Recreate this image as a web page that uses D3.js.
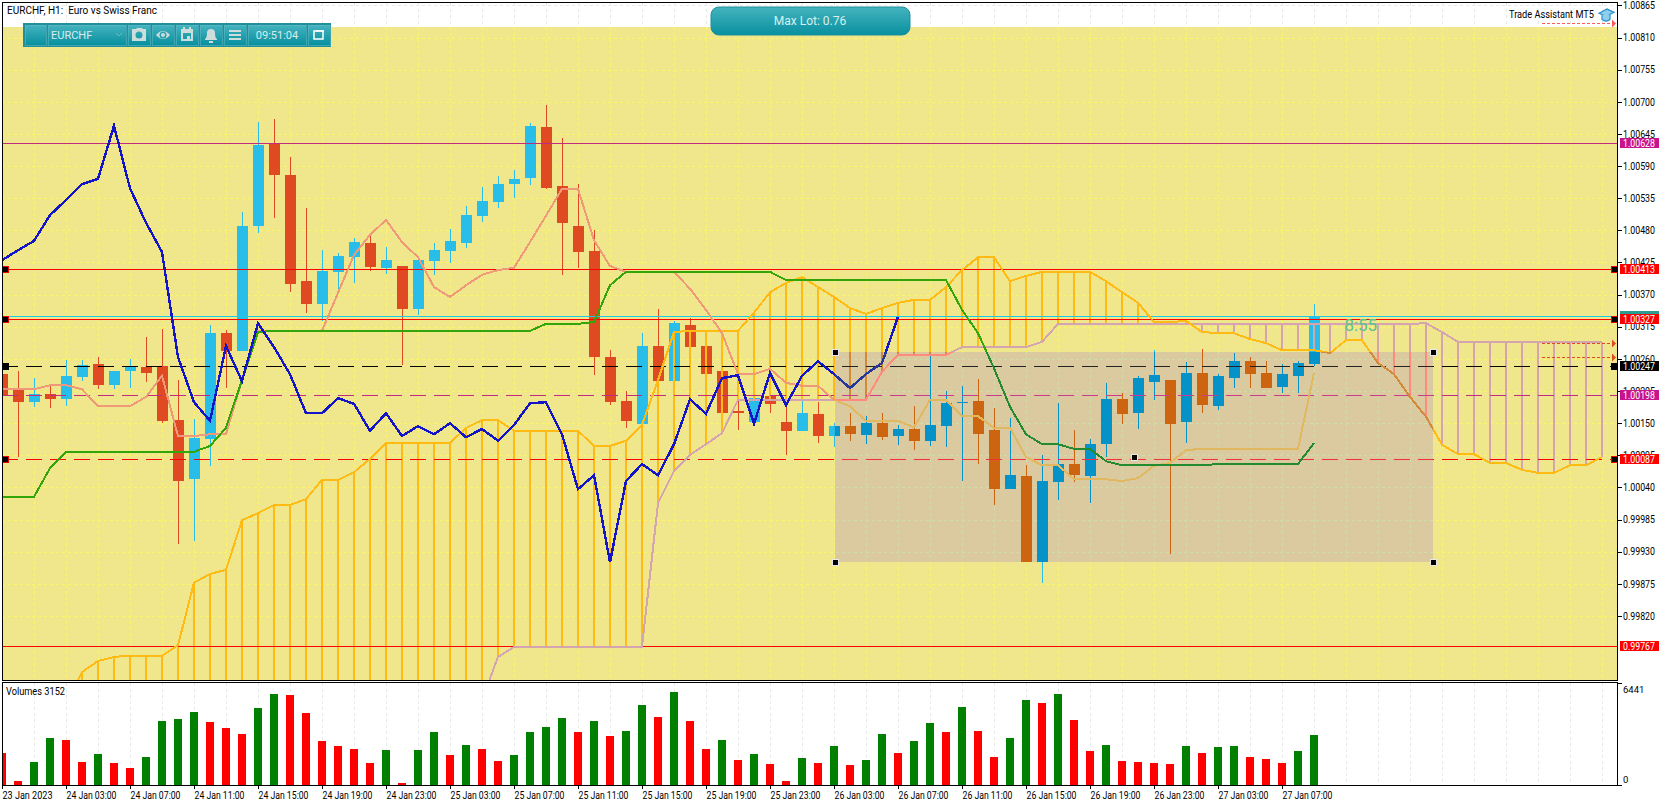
<!DOCTYPE html>
<html>
<head>
<meta charset="utf-8">
<script src="https://cdn.jsdelivr.net/npm/d3@7"></script>
<style>
  html, body { margin: 0; padding: 0; background: #fff; }
  svg { display: block; }
  text { font-family: Roboto, "Liberation Sans", sans-serif; }
</style>
</head>
<body>
<div id="chart"></div>
<script>
// all prices in points (1.00000 = 100000)
const highs = [100241,100239,100227,100217,100258,100258,100263,100239,100260,100297,100311,100224,100157,100318,100309,100511,100665,100671,100606,100518,100446,100441,100467,100475,100451,100419,100436,100458,100482,100522,100554,100573,100583,100664,100695,100638,100559,100481,100275,100205,100304,100345,100325,100330,100282,100239,100215,100197,100203,100181,100188,100186,100150,100167,100162,100167,100147,100179,100265,100205,100214,100226,100176,100159,100078,100096,100184,100138,100123,100219,100202,100231,100275,100224,100255,100277,100234,100270,100263,100256,100251,100256,100354];
const lows = [100190,100092,100178,100176,100179,100222,100209,100209,100210,100220,100150,99943,99948,100077,100210,100274,100475,100501,100374,100339,100325,100378,100390,100410,100405,100250,100335,100404,100424,100450,100494,100518,100535,100558,100551,100404,100416,100232,100181,100142,100145,100215,100197,100272,100210,100159,100138,100147,100167,100096,100137,100116,100109,100120,100114,100121,100113,100104,100111,100109,100051,100080,100010,100037,99912,99877,100018,100049,100013,100092,100149,100140,100190,99926,100116,100167,100173,100210,100210,100210,100202,100202,100248];
const opens = [100234,100207,100186,100200,100191,100229,100251,100215,100239,100246,100248,100155,100054,100123,100304,100274,100487,100630,100575,100393,100354,100409,100434,100458,100416,100419,100345,100428,100445,100458,100505,100528,100559,100570,100657,100556,100487,100445,100263,100188,100149,100282,100222,100318,100282,100239,100171,100152,100197,100152,100137,100166,100128,100145,100130,100150,100128,100140,100120,100145,100184,100188,100138,100037,100060,99912,100049,100080,100060,100114,100191,100167,100220,100224,100152,100236,100179,100227,100256,100236,100212,100231,100251];
const closes = [100198,100186,100200,100191,100231,100250,100215,100239,100246,100236,100154,100051,100125,100304,100274,100487,100626,100575,100388,100354,100410,100436,100460,100417,100429,100345,100429,100446,100462,100506,100530,100559,100568,100659,100552,100493,100443,100263,100186,100154,100282,100222,100321,100280,100234,100167,100167,100193,100183,100137,100167,100128,100145,100131,100150,100126,100140,100120,100147,100184,100186,100131,100037,100061,99912,100051,100080,100061,100114,100191,100166,100227,100232,100149,100236,100181,100231,100256,100234,100210,100234,100253,100332];

const tenkan = [100208,100208,100208,100215,100215,100208,100179,100179,100179,100195,100231,100128,100128,100131,100131,100224,100308,100308,100308,100308,100308,100373,100438,100472,100498,100460,100434,100383,100366,100386,100404,100412,100416,100460,100505,100551,100551,100463,100419,100409,100409,100409,100409,100380,100344,100304,100234,100234,100243,100219,100214,100214,100190,100179,100154,100154,100154,100143,100190,100190,100162,100162,100142,100142,100092,100078,100078,100054,100054,100054,100051,100056,100077,100082,100104,100106,100106,100106,100106,100106,100106,100106,100236];
const kijun = [100024,100024,100024,100073,100101,100101,100101,100101,100101,100101,100101,100101,100101,100111,100142,100224,100306,100308,100308,100308,100308,100308,100308,100308,100308,100308,100308,100308,100308,100308,100308,100308,100308,100308,100320,100320,100320,100323,100386,100409,100409,100409,100409,100409,100409,100409,100409,100409,100409,100395,100395,100395,100395,100395,100395,100395,100395,100395,100395,100395,100344,100304,100244,100178,100131,100114,100114,100106,100106,100085,100078,100078,100078,100078,100078,100078,100080,100080,100080,100080,100080,100080,100116];
const chikou = [100429,100446,100462,100506,100532,100559,100568,100659,100552,100493,100443,100263,100186,100154,100282,100222,100321,100280,100234,100167,100167,100193,100183,100137,100167,100128,100145,100131,100150,100126,100140,100120,100147,100184,100186,100131,100037,100061,99912,100051,100080,100061,100114,100191,100166,100227,100232,100149,100236,100181,100231,100256,100234,100210,100234,100253,100332];
// the cloud starts at bar 4 and runs 18 bars past the last candle
const cloudStart = 4;
const spanA = [99669,99724,99743,99750,99752,99752,99752,99770,99877,99892,99899,99984,99996,100010,100010,100020,100053,100053,100066,100089,100116,100116,100116,100116,100116,100142,100155,100155,100137,100137,100137,100137,100137,100111,100111,100120,100147,100224,100306,100308,100308,100308,100308,100339,100374,100390,100400,100383,100366,100347,100337,100347,100356,100361,100361,100383,100412,100434,100434,100393,100402,100409,100409,100409,100409,100393,100374,100356,100323,100323,100325,100306,100304,100304,100294,100287,100275,100275,100275,100270,100292,100292,100253,100234,100195,100161,100113,100097,100097,100082,100082,100070,100065,100065,100078,100078,100092];
const spanB = [99642,99642,99642,99642,99642,99642,99642,99642,99642,99642,99642,99642,99642,99642,99642,99642,99642,99642,99642,99642,99642,99642,99642,99642,99642,99642,99676,99750,99767,99767,99767,99767,99767,99767,99767,99767,99767,100013,100068,100096,100114,100133,100190,100190,100190,100190,100190,100190,100190,100190,100190,100238,100267,100267,100267,100267,100280,100280,100280,100280,100280,100289,100320,100320,100320,100320,100320,100320,100320,100320,100320,100320,100320,100320,100320,100320,100320,100320,100320,100320,100320,100320,100320,100320,100320,100321,100306,100289,100289,100289,100289,100289,100289,100289,100289,100289,100289];

const volumes = [2021,253,1452,2968,2842,1452,1958,1389,1074,1768,4042,4168,4610,3978,3600,3221,4863,5747,5684,4547,2779,2463,2273,1389,2210,126,2210,3347,1895,2526,2273,1516,1895,3347,3663,4231,3347,4042,3094,3410,5052,4294,5873,4042,2273,2842,1579,1958,1326,253,1705,1389,2463,1263,1579,3221,2021,2779,3915,3347,4926,3410,1768,2968,5368,5178,5747,4105,2147,2526,1516,1452,1389,1326,2463,2021,2400,2463,1768,1642,1389,2147,3152];

const priceTicks = [100865,100810,100755,100700,100645,100590,100535,100480,100425,100370,100315,100260,100205,100150,100095,100040,99985,99930,99875,99820];
const volumeTicks = [0, 6441];
const timeLabels = ["23 Jan 2023","24 Jan 03:00","24 Jan 07:00","24 Jan 11:00","24 Jan 15:00","24 Jan 19:00","24 Jan 23:00","25 Jan 03:00","25 Jan 07:00","25 Jan 11:00","25 Jan 15:00","25 Jan 19:00","25 Jan 23:00","26 Jan 03:00","26 Jan 07:00","26 Jan 11:00","26 Jan 15:00","26 Jan 19:00","26 Jan 23:00","27 Jan 03:00","27 Jan 07:00"];

const levels = [100628,100413,100332,100327,100247,100198,100087,99767];
const levelLabels = ["1.00628","1.00413","","1.00327","1.00247","1.00198","1.00087","0.99767"];
const levelKinds = ["purple","red","cyan","red","black","purple","red","red"];
const levelDashed = [false,false,false,false,true,true,true,false];
const levelHandles = [false,true,false,true,true,false,true,false];

const boxBars = [52.06, 89.44];
const boxPrices = [100272, 99912];

const width = 1670, height = 806;
const plotLeft = 2, plotRight = 1617, plotTop = 2, plotBottom = 680, volTop = 683, volBottom = 785;

const x = d3.scaleLinear().domain([0, 100]).range([2, 1602]);
const y = d3.scaleLinear().domain([100865, 99820]).range([5.4, 616]);
const yVol = d3.scaleLinear().domain(volumeTicks).range([volBottom, volTop]);

const normal = {
  up: "#29bde9", down: "#e04a22", tenkan: "#f0987a", kijun: "#32a508", chikou: "#1414c8",
  spanA: "#ffba14", spanB: "#d4a4b0", grid: "#fbf56e", red: "#ff0000", purple: "#c02a80",
  black: "#000", cyan: "#1ec8e6"
};
// the rectangle object recolours whatever lies under it
const inBox = {
  up: "#0592c8", down: "#cc6410", tenkan: "#e0b860", kijun: "#228b30", chikou: "#25379a",
  spanA: "#d08a3a", spanB: "#ff8a80", grid: "#d2dca8", red: "#f0303a", purple: "#c83c8c",
  black: "#222", cyan: "#1ec8e6"
};
const labelFill = { red: "#ff0000", purple: "#c8148c", black: "#000" };

const svg = d3.select("#chart").append("svg")
    .attr("width", width)
    .attr("height", height)
    .attr("shape-rendering", "crispEdges");

const defs = svg.append("defs");
defs.append("clipPath").attr("id", "plotClip").append("rect")
    .attr("x", plotLeft).attr("y", plotTop).attr("width", plotRight - plotLeft).attr("height", plotBottom - plotTop);
defs.append("clipPath").attr("id", "boxClip").append("rect")
    .attr("x", x(boxBars[0])).attr("y", y(boxPrices[0]))
    .attr("width", x(boxBars[1]) - x(boxBars[0])).attr("height", y(boxPrices[1]) - y(boxPrices[0]));

const evenBars = d3.range(2, 101, 2);

function drawGrid(g, color, top, bottom, rows) {
  g.selectAll(".gv").data(evenBars).enter().append("line")
      .attr("x1", d => x(d)).attr("x2", d => x(d))
      .attr("y1", top).attr("y2", bottom)
      .attr("stroke", color).attr("stroke-dasharray", "3,3");
  g.selectAll(".gh").data(rows).enter().append("line")
      .attr("x1", plotLeft).attr("x2", plotRight)
      .attr("y1", d => Math.round(y(d))).attr("y2", d => Math.round(y(d)))
      .attr("stroke", color).attr("stroke-dasharray", "3,3");
}

// squeeze a text to the width it has in the terminal's font
function fit(sel, w) {
  return sel.attr("textLength", w).attr("lengthAdjust", "spacingAndGlyphs");
}

// candles, cloud, ichimoku lines and object lines; called again with other colours for the box
function drawPriceLayer(g, pal) {
  const bars = d3.range(closes.length);

  g.selectAll(".wick").data(bars).enter().append("line")
      .attr("x1", i => Math.round(x(i)) + 0.5).attr("x2", i => Math.round(x(i)) + 0.5)
      .attr("y1", i => y(highs[i])).attr("y2", i => y(lows[i]))
      .attr("stroke", i => closes[i] >= opens[i] ? pal.up : pal.down);

  g.selectAll(".body").data(bars).enter().append("rect")
      .attr("x", i => Math.round(x(i)) - 5)
      .attr("width", 11)
      .attr("y", i => y(Math.max(opens[i], closes[i])))
      .attr("height", i => Math.max(1, y(Math.min(opens[i], closes[i])) - y(Math.max(opens[i], closes[i]))))
      .attr("fill", i => closes[i] >= opens[i] ? pal.up : pal.down);

  // cloud hatching
  g.selectAll(".hatch").data(spanA.slice(1)).enter().append("line")
      .attr("x1", (d, k) => x(k + cloudStart + 1)).attr("x2", (d, k) => x(k + cloudStart + 1))
      .attr("y1", d => y(d)).attr("y2", (d, k) => y(spanB[k + 1]))
      .attr("stroke", (d, k) => d >= spanB[k + 1] ? pal.spanA : pal.spanB)
      .attr("stroke-width", 2);

  const line = d3.line().x(d => x(d[0])).y(d => y(d[1]));
  const path = (values, start, color, w) => g.append("path")
      .attr("d", line(values.map((v, k) => [k + start, v])))
      .attr("fill", "none").attr("stroke", color).attr("stroke-width", w);

  levels.forEach((lv, k) => {
    g.append("line")
        .attr("x1", plotLeft).attr("x2", plotRight)
        .attr("y1", Math.floor(y(lv)) + 0.5).attr("y2", Math.floor(y(lv)) + 0.5)
        .attr("stroke", pal[levelKinds[k]])
        .attr("stroke-dasharray", levelDashed[k] ? "16,8" : null);
  });

  path(spanB, cloudStart, pal.spanB, 2);
  path(spanA, cloudStart, pal.spanA, 2);
  path(tenkan, 0, pal.tenkan, 2);
  path(kijun, 0, pal.kijun, 2);
  path(chikou, 0, pal.chikou, 2.4);
}

// price pane
const plot = svg.append("g").attr("clip-path", "url(#plotClip)");
plot.append("rect").attr("x", plotLeft).attr("y", plotTop).attr("width", plotRight - plotLeft).attr("height", plotBottom - plotTop).attr("fill", "#fff");
const topGrid = plot.append("g");
drawGrid(topGrid, "#e8e8e8", 3, 27, [priceTicks[0]]);
plot.append("rect").attr("x", plotLeft).attr("y", 27).attr("width", plotRight - plotLeft).attr("height", plotBottom - 27).attr("fill", "#f0e68c");
const baseLayer = plot.append("g");
drawGrid(baseLayer, normal.grid, 27, plotBottom, priceTicks.slice(1));
drawPriceLayer(baseLayer, normal);

const boxLayer = plot.append("g").attr("clip-path", "url(#boxClip)");
boxLayer.append("rect").attr("x", x(boxBars[0])).attr("y", y(boxPrices[0]))
    .attr("width", x(boxBars[1]) - x(boxBars[0])).attr("height", y(boxPrices[1]) - y(boxPrices[0]))
    .attr("fill", "#dbc9a0");
drawGrid(boxLayer, inBox.grid, 27, plotBottom, priceTicks.slice(1));
drawPriceLayer(boxLayer, inBox);

// countdown text next to the last candle
plot.append("text").attr("x", x(83.9)).attr("y", y(100308)).attr("font-size", 17)
    .attr("fill", "#5cc090").attr("shape-rendering", "auto").text("8:55");

// object handles
function handle(cx, cy, fill, border) {
  svg.append("rect").attr("x", cx - 3).attr("y", cy - 3).attr("width", 6).attr("height", 6)
      .attr("fill", fill).attr("stroke", border);
}
[[boxBars[0], boxPrices[0]], [boxBars[1], boxPrices[0]], [boxBars[0], boxPrices[1]], [boxBars[1], boxPrices[1]], [70.75, 100092]]
  .forEach(d => handle(Math.round(x(d[0])), Math.round(y(d[1])), "#000", "#e8e8e8"));
levels.forEach((lv, k) => {
  if (!levelHandles[k]) return;
  const border = levelKinds[k] === "black" ? "#000" : "#f00000";
  handle(5, Math.floor(y(lv)), "#000", border);
  handle(1614, Math.floor(y(lv)), "#000", border);
});

// dashed alert arrows at the right edge
[[100835, "#ff5a5a"], [100287, "#e04a22"], [100263, "#e04a22"]].forEach(d => {
  const ay = Math.round(y(d[0])) + 0.5;
  svg.append("line").attr("x1", 1542).attr("x2", 1612).attr("y1", ay).attr("y2", ay)
      .attr("stroke", d[1]).attr("stroke-dasharray", "3,2");
  svg.append("path").attr("d", `M1612,${ay - 4}L1616,${ay}L1612,${ay + 4}Z`).attr("fill", d[1]).attr("shape-rendering", "auto");
});

// volume pane
const volPane = svg.append("g");
drawGrid(volPane, "#e8e8e8", volTop, volBottom, []);
volPane.selectAll(".vol").data(volumes).enter().append("rect")
    .attr("x", (d, i) => Math.round(x(i)) - 4)
    .attr("width", 8)
    .attr("y", d => yVol(d))
    .attr("height", d => volBottom - yVol(d))
    .attr("fill", (d, i) => i > 0 && d > volumes[i - 1] ? "#008000" : "#ff0000");
volPane.append("rect").attr("x", 0).attr("y", volTop).attr("width", plotLeft).attr("height", volBottom - volTop).attr("fill", "#fff");
fit(svg.append("text").attr("x", 6).attr("y", 695).attr("font-size", 10).text("Volumes 3152"), 59);

// frames
svg.append("rect").attr("x", plotLeft + 0.5).attr("y", plotTop + 0.5).attr("width", plotRight - plotLeft).attr("height", plotBottom - plotTop)
    .attr("fill", "none").attr("stroke", "#000");
svg.append("rect").attr("x", plotLeft + 0.5).attr("y", volTop - 0.5).attr("width", plotRight - plotLeft).attr("height", volBottom - volTop + 0.5)
    .attr("fill", "none").attr("stroke", "#000");

// axes
const priceAxis = svg.append("g").attr("transform", `translate(${plotRight},0)`)
    .call(d3.axisRight(y).tickValues(priceTicks).tickSize(5).tickFormat(d => (d / 100000).toFixed(5)));
priceAxis.select(".domain").remove();
fit(priceAxis.selectAll("text").attr("x", 6).attr("font-size", 10).attr("font-family", "Roboto").attr("fill", "#000"), 32);

const volAxis = svg.append("g").attr("transform", `translate(${plotRight},0)`)
    .call(d3.axisRight(yVol).tickValues(volumeTicks).tickSize(5));
volAxis.select(".domain").remove();
volAxis.selectAll("text").attr("x", 6).attr("font-size", 9.5).attr("font-family", "Roboto").attr("fill", "#000")
    .attr("dy", d => d === 0 ? "-0.3em" : "0.95em")
    .text(d => d);

const timeAxis = svg.append("g").attr("transform", `translate(0,${volBottom})`)
    .call(d3.axisBottom(x).tickValues(d3.range(0, 81, 4)).tickSize(4).tickFormat((d, i) => timeLabels[i]));
timeAxis.select(".domain").remove();
fit(timeAxis.selectAll("text").attr("text-anchor", "start").attr("x", 0).attr("y", 7).attr("font-size", 10).attr("font-family", "Roboto").attr("fill", "#000"), 50);

// price labels on the axis
svg.append("rect").attr("x", 1620).attr("y", 311).attr("width", 39).attr("height", 5).attr("fill", "#2a9d8f");
levels.forEach((lv, k) => {
  if (!levelLabels[k]) return;
  const ly = Math.floor(y(lv));
  svg.append("rect").attr("x", 1620).attr("y", ly - 5).attr("width", 39).attr("height", 10).attr("fill", labelFill[levelKinds[k]]);
  fit(svg.append("text").attr("x", 1623).attr("y", ly + 4).attr("font-size", 10).attr("fill", "#fff").text(levelLabels[k]), 32);
});

// header texts
fit(svg.append("text").attr("x", 7).attr("y", 14).attr("font-size", 11).text("EURCHF, H1:\u00a0 Euro vs Swiss Franc"), 150);
fit(svg.append("text").attr("x", 1509).attr("y", 18).attr("font-size", 10.5).text("Trade Assistant MT5"), 85);
const cap = svg.append("g").attr("transform", "translate(1599,8) scale(1.0,1.05)").attr("shape-rendering", "auto")
    .attr("fill", "#8fcfee").attr("stroke", "#2a8fc8").attr("stroke-width", 1.2);
cap.append("path").attr("d", "M0,5L8,1L15,4L7,8Z");
cap.append("path").attr("d", "M3,7V11Q7,14 11,11V6");

// toolbar gradient
const grad = defs.append("linearGradient").attr("id", "teal").attr("x1", 0).attr("x2", 0).attr("y1", 0).attr("y2", 1);
grad.append("stop").attr("offset", 0).attr("stop-color", "#45b3bf");
grad.append("stop").attr("offset", 1).attr("stop-color", "#08909f");

const toolbar = svg.append("g");
toolbar.append("rect").attr("x", 23).attr("y", 23).attr("width", 308).attr("height", 24).attr("fill", "#1f8f9c");
const toolButtons = [[25, 21], [48, 78], [128, 22], [152, 22], [176, 22], [200, 22], [224, 22], [248, 58], [308, 22]];
toolButtons.forEach(b => {
  toolbar.append("rect").attr("x", b[0]).attr("y", 25).attr("width", b[1]).attr("height", 20)
      .attr("fill", "url(#teal)").attr("stroke", "#63bcc6").attr("stroke-width", 0.5);
});
toolbar.append("text").attr("x", 51).attr("y", 39).attr("font-size", 11).attr("fill", "#d8ecee").attr("shape-rendering", "auto").text("EURCHF");
toolbar.append("path").attr("d", "M116,33L119,36L122,33").attr("fill", "none").attr("stroke", "#6fb8c0").attr("shape-rendering", "auto");
toolbar.append("text").attr("x", 277).attr("y", 39).attr("font-size", 11).attr("text-anchor", "middle").attr("fill", "#d8ecee").text("09:51:04");

const icons = toolbar.append("g").attr("fill", "#cfdcdc").attr("shape-rendering", "auto");
// camera
icons.append("path").attr("d", "M132,29H136L137,28H142L143,29H146V41H132ZM139,31.5A3.5,3.5 0 1,0 139,38.5A3.5,3.5 0 1,0 139,31.5Z").attr("fill-rule", "evenodd");
// eye
icons.append("path").attr("d", "M156,35Q163,27 170,35Q163,43 156,35ZM163,31.5A3.5,3.5 0 1,0 163,38.5A3.5,3.5 0 1,0 163,31.5Z").attr("fill-rule", "evenodd");
icons.append("circle").attr("cx", 163).attr("cy", 35).attr("r", 2);
// calendar
icons.append("path").attr("d", "M181,29H193V41H181ZM183,33V39H191V33Z").attr("fill-rule", "evenodd");
icons.append("rect").attr("x", 187).attr("y", 36).attr("width", 3).attr("height", 3);
icons.append("rect").attr("x", 183).attr("y", 27).attr("width", 2).attr("height", 3);
icons.append("rect").attr("x", 189).attr("y", 27).attr("width", 2).attr("height", 3);
// bell
icons.append("path").attr("d", "M205,39Q207,38 207,33Q207,29 211,29Q215,29 215,33Q215,38 217,39V40H205Z");
icons.append("rect").attr("x", 209).attr("y", 41).attr("width", 4).attr("height", 2);
// menu
[30, 34, 38].forEach(my => icons.append("rect").attr("x", 229).attr("y", my).attr("width", 12).attr("height", 2));
// restore
icons.append("rect").attr("x", 314).attr("y", 31).attr("width", 9).attr("height", 8).attr("fill", "none").attr("stroke", "#fff").attr("stroke-width", 1.5);
icons.append("rect").attr("x", 316).attr("y", 30).attr("width", 8).attr("height", 1.5).attr("fill", "#fff");

// Max Lot panel
svg.append("rect").attr("x", 711).attr("y", 7).attr("width", 199).attr("height", 28).attr("rx", 8)
    .attr("fill", "url(#teal)").attr("stroke", "#1f8f9c").attr("shape-rendering", "auto");
svg.append("text").attr("x", 810).attr("y", 25).attr("font-size", 12).attr("text-anchor", "middle")
    .attr("font-family", "Liberation Sans").attr("fill", "#d8f0f0").text("Max Lot: 0.76");
</script>
</body>
</html>
